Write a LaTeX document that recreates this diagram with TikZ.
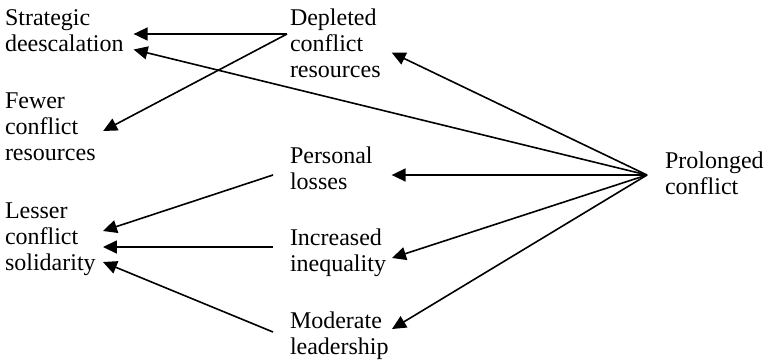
\documentclass[tikz,border=0pt]{standalone}
\usepackage{fontspec}
\setmainfont{Liberation Serif}
\usetikzlibrary{arrows.meta}
\begin{document}
\begin{tikzpicture}[x=1bp,y=-1bp,
  lbl/.style={inner sep=0pt,outer sep=0pt,align=left,anchor=base west,
    font=\fontsize{24bp}{26bp}\selectfont},
  conn/.style={line width=1.6bp,-{Triangle[length=14bp,width=13bp]}}]
\useasboundingbox (0,0) rectangle (766,363);
% base anchor = baseline of the last line
\node[lbl] (strat) at (5,51.5) {Strategic\\deescalation};
\node[lbl] (dep)   at (290,77.5) {Depleted\\conflict\\resources};
\node[lbl] (fewer) at (5,160) {Fewer\\conflict\\resources};
\node[lbl] (pers)  at (290,189) {Personal\\losses};
\node[lbl] (lesser) at (5,270) {Lesser\\conflict\\solidarity};
\node[lbl] (incr)  at (290,271) {Increased\\inequality};
\node[lbl] (mod)   at (290,354) {Moderate\\leadership};
\node[lbl] (prol)  at (665,194) {Prolonged\\conflict};
% connectors
\draw[conn] ([shift={(-3,-43.5)}]dep.base west) -- ([shift={(10,-17.5)}]strat.base east);
\draw[conn] ([shift={(-3,-43.5)}]dep.base west) -- ([shift={(7.5,-29)}]fewer.base east);
\draw[conn] ([shift={(-18,-19)}]prol.base west) -- ([shift={(10,-2)}]strat.base east);
\draw[conn] ([shift={(-18,-19)}]prol.base west) -- ([shift={(11,-25)}]dep.base east);
\draw[conn] ([shift={(-18,-19)}]prol.base west) -- ([shift={(19,-14)}]pers.base east);
\draw[conn] ([shift={(-18,-19)}]prol.base west) -- ([shift={(6,-13)}]incr.base east);
\draw[conn] ([shift={(-18,-19)}]prol.base west) -- ([shift={(3.4,-25)}]mod.base east);
\draw[conn] ([shift={(-17,-14)}]pers.base west) -- ([shift={(7.3,-39)}]lesser.base east);
\draw[conn] ([shift={(-17,-24)}]incr.base west) -- ([shift={(7.3,-23)}]lesser.base east);
\draw[conn] ([shift={(-17,-22)}]mod.base west) -- ([shift={(7.3,-8)}]lesser.base east);
\end{tikzpicture}
\end{document}
